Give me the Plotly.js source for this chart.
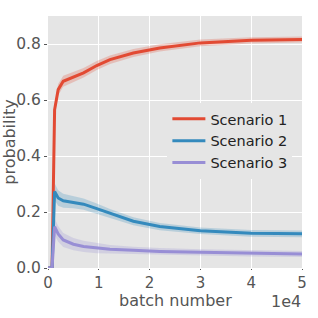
<!DOCTYPE html>
<html>
<head>
<meta charset="utf-8">
<script src="https://cdn.plot.ly/plotly-3.0.1.min.js"></script>
<style>html,body{margin:0;padding:0;background:#fff;}#chart{width:318px;height:318px;}</style>
</head>
<body>
<div id="chart"></div>
<script>
// batch numbers
const batches = [0, 800, 1300, 2000, 3000, 5000, 7000, 9600, 12200, 16800, 22000, 30000, 40000, 50000];
// mean probabilities
const scenario1 = [0, 0, 0.565, 0.637, 0.667, 0.682, 0.697, 0.723, 0.744, 0.768, 0.786, 0.804, 0.813, 0.816];
const scenario2 = [0, 0, 0.273, 0.250, 0.240, 0.235, 0.228, 0.212, 0.195, 0.167, 0.148, 0.133, 0.124, 0.122];
const scenario3 = [0, 0, 0.148, 0.122, 0.100, 0.085, 0.077, 0.071, 0.067, 0.063, 0.059, 0.056, 0.052, 0.050];
// spread (half-width of shaded band)
const spread1 = [0, 0, 0.020, 0.020, 0.020, 0.018, 0.017, 0.016, 0.015, 0.014, 0.013, 0.012, 0.011, 0.011];
const spread2 = [0, 0, 0.030, 0.028, 0.025, 0.022, 0.020, 0.018, 0.016, 0.014, 0.013, 0.012, 0.012, 0.012];
const spread3 = [0, 0, 0.030, 0.028, 0.025, 0.022, 0.020, 0.018, 0.015, 0.013, 0.012, 0.011, 0.011, 0.011];
const seriesNames = ["Scenario 1", "Scenario 2", "Scenario 3"];
const xTickVals = [0, 10000, 20000, 30000, 40000, 50000];
const xTickText = ["0", "1", "2", "3", "4", "5"];
const yTickVals = [0, 0.2, 0.4, 0.6, 0.8];
const xTitle = "batch number";
const yTitle = "probability";
const xOffsetText = "1e4";

const colors = ["#E24A33", "#348ABD", "#988ED5"];
const bands = ["rgba(226,74,51,0.25)", "rgba(52,138,189,0.25)", "rgba(152,142,213,0.25)"];
const means = [scenario1, scenario2, scenario3];
const spreads = [spread1, spread2, spread3];

const traces = [];
for (let i = 0; i < 3; i++) {
  traces.push({x: batches, y: means[i].map((v, k) => v - spreads[i][k]), mode: "lines",
    line: {width: 0, color: bands[i]}, showlegend: false, hoverinfo: "skip"});
  traces.push({x: batches, y: means[i].map((v, k) => v + spreads[i][k]), mode: "lines",
    line: {width: 0, color: bands[i]}, fill: "tonexty", fillcolor: bands[i], showlegend: false, hoverinfo: "skip"});
}
for (let i = 0; i < 3; i++) {
  traces.push({x: batches, y: means[i], mode: "lines", name: seriesNames[i],
    line: {width: 3, color: colors[i]}});
}

const tickFont = {family: "DejaVu Sans, sans-serif", size: 15.5, color: "#555555"};
const titleFont = {family: "DejaVu Sans, sans-serif", size: 16, color: "#555555"};
const layout = {
  width: 318, height: 318,
  margin: {l: 48, r: 16, t: 16, b: 50},
  paper_bgcolor: "#ffffff",
  plot_bgcolor: "#E5E5E5",
  font: tickFont,
  showlegend: true,
  legend: {x: 0.47, y: 0.655, xanchor: "left", yanchor: "top", bgcolor: "#E5E5E5",
    borderwidth: 0, traceorder: "normal", itemwidth: 33,
    font: {family: "DejaVu Sans, sans-serif", size: 14.5, color: "#222222"},
    tracegroupgap: 0},
  xaxis: {range: [0, 50000], tickvals: xTickVals, ticktext: xTickText,
    showgrid: true, gridcolor: "#ffffff", gridwidth: 1, zeroline: false,
    ticks: "outside", ticklen: 1, tickcolor: "#555555", showline: false,
    tickfont: {family: "DejaVu Sans, sans-serif", size: 15, color: "#555555"}},
  yaxis: {range: [0, 0.9], tickvals: yTickVals, tickformat: ".1f",
    showgrid: true, gridcolor: "#ffffff", gridwidth: 1, zeroline: false,
    ticks: "outside", ticklen: 3, tickcolor: "#555555", showline: false,
    tickfont: tickFont,
    title: {text: yTitle, font: titleFont, standoff: 0}},
  annotations: [
    {text: xTitle, xref: "paper", yref: "paper", x: 0.5, y: -0.128,
      xanchor: "center", yanchor: "middle", showarrow: false, font: titleFont, borderpad: 0},
    {text: xOffsetText, xref: "paper", yref: "paper", x: 1.0, y: -0.132,
      xanchor: "right", yanchor: "middle", showarrow: false, font: titleFont, borderpad: 0}]
};
Plotly.newPlot("chart", traces, layout, {staticPlot: true, displayModeBar: false});
</script>
</body>
</html>
